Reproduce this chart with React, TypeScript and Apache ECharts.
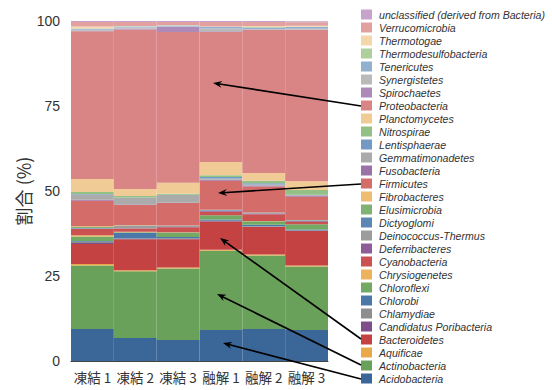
import React, { useEffect, useRef } from "react";
import * as echarts from "echarts";

const categories = ["凍結 1", "凍結 2", "凍結 3", "融解 1", "融解 2", "融解 3"];
const yTicks = [0, 25, 50, 75, 100];

// bottom to top
const phyla = [
  "Acidobacteria", "Actinobacteria", "Aquificae", "Bacteroidetes", "Candidatus Poribacteria",
  "Chlamydiae", "Chlorobi", "Chloroflexi", "Chrysiogenetes", "Cyanobacteria",
  "Deferribacteres", "Deinococcus-Thermus", "Dictyoglomi", "Elusimicrobia", "Fibrobacteres",
  "Firmicutes", "Fusobacteria", "Gemmatimonadetes", "Lentisphaerae", "Nitrospirae",
  "Planctomycetes", "Proteobacteria", "Spirochaetes", "Synergistetes", "Tenericutes",
  "Thermodesulfobacteria", "Thermotogae", "Verrucomicrobia", "unclassified (derived from Bacteria)",
];

const acidobacteria = [9.4, 6.8, 6.2, 9.1, 9.4, 9.1];
const actinobacteria = [18.7, 19.6, 21.0, 23.3, 21.6, 18.7];
const aquificae = [0.4, 0.3, 0.3, 0.3, 0.3, 0.3];
const bacteroidetes = [5.9, 9.1, 8.3, 8.3, 8.1, 10.1];
const candidatusPoribacteria = [0.3, 0.1, 0.1, 0.15, 0.1, 0.1];
const chlamydiae = [0.4, 0.1, 0.2, 0.1, 0.1, 0.1];
const chlorobi = [0.2, 1.7, 0.4, 0.4, 0.5, 0.3];
const chloroflexi = [1.3, 0.2, 1.3, 1.2, 1.0, 1.5];
const chrysiogenetes = [0.4, 0.1, 0.05, 0.05, 0.05, 0.05];
const cyanobacteria = [1.8, 1.0, 1.5, 1.0, 2.0, 0.7];
const deferribacteres = [0.1, 0.05, 0.05, 0.3, 0.2, 0.3];
const deinococcusThermus = [0.1, 0.7, 0.3, 0.1, 0.2, 0.1];
const dictyoglomi = [0.1, 0.05, 0.05, 0.1, 0.05, 0.05];
const elusimicrobia = [0.3, 0.05, 0.05, 0.05, 0.05, 0.05];
const fibrobacteres = [0.2, 0.05, 0.05, 0.05, 0.05, 0.05];
const firmicutes = [7.5, 6.0, 6.6, 8.5, 7.6, 6.8];
const fusobacteria = [0.3, 0.1, 0.1, 0.3, 0.3, 0.4];
const gemmatimonadetes = [1.6, 2.0, 2.3, 0.4, 0.3, 0.1];
const lentisphaerae = [0.1, 0.1, 0.05, 0.4, 0.4, 0.1];
const nitrospirae = [0.6, 0.4, 0.3, 0.5, 0.7, 1.4];
const planctomycetes = [3.8, 2.1, 3.2, 3.9, 2.3, 2.6];
const proteobacteria = [43.5, 46.9, 44.4, 38.3, 42.1, 44.5];
const spirochaetes = [0.1, 0.3, 1.5, 0.2, 0.1, 0.1];
const synergistetes = [0.3, 0.3, 0.1, 0.8, 0.1, 0.2];
const tenericutes = [0.3, 0.3, 0.3, 0.4, 0.5, 0.5];
const thermodesulfobacteria = [0.1, 0.05, 0.05, 0.1, 0.1, 0.1];
const thermotogae = [0.6, 0.05, 0.05, 0.1, 0.3, 0.3];
const verrucomicrobia = [1.3, 1.2, 0.9, 1.3, 1.2, 1.0];
const unclassified = [0.3, 0.3, 0.3, 0.3, 0.3, 0.3];

const values = [
  acidobacteria, actinobacteria, aquificae, bacteroidetes, candidatusPoribacteria,
  chlamydiae, chlorobi, chloroflexi, chrysiogenetes, cyanobacteria,
  deferribacteres, deinococcusThermus, dictyoglomi, elusimicrobia, fibrobacteres,
  firmicutes, fusobacteria, gemmatimonadetes, lentisphaerae, nitrospirae,
  planctomycetes, proteobacteria, spirochaetes, synergistetes, tenericutes,
  thermodesulfobacteria, thermotogae, verrucomicrobia, unclassified,
];

const colors = [
  "#3a6698", "#6aa15a", "#e9a94a", "#c44242", "#7e4e8a",
  "#8e8e8e", "#4b78a8", "#74a964", "#ecb25c", "#cc5252",
  "#8c5d99", "#9c9c9c", "#5c87b4", "#80b271", "#eebd71",
  "#d46c6a", "#9b72a8", "#ababab", "#7399c4", "#93c084",
  "#f1cb95", "#d98485", "#ad8ab8", "#bababa", "#92afd0",
  "#aed09f", "#f4d6ab", "#e2a09f", "#c7a3cb",
];

// annotation arrows: legend row -> region in chart (pixels)
const arrows = [
  { from: [361, 106], to: [213, 83] },
  { from: [361, 184], to: [218, 193] },
  { from: [361, 339], to: [220, 238] },
  { from: [361, 365], to: [217, 294] },
  { from: [361, 379], to: [223, 343] },
];

function arrowGraphics() {
  const els: any[] = [];
  arrows.forEach((a) => {
    const [x1, y1] = a.from;
    const [x2, y2] = a.to;
    const dx = x2 - x1, dy = y2 - y1;
    const len = Math.sqrt(dx * dx + dy * dy);
    const ux = dx / len, uy = dy / len;
    const hl = 9, hw = 3.5;
    const bx = x2 - ux * hl, by = y2 - uy * hl;
    const px = -uy, py = ux;
    els.push({
      type: "line",
      z: 100,
      shape: { x1, y1, x2: x2 - ux * 5, y2: y2 - uy * 5 },
      style: { stroke: "#000", lineWidth: 1.6 },
    });
    els.push({
      type: "polygon",
      z: 100,
      shape: {
        points: [
          [x2, y2],
          [bx + px * hw, by + py * hw],
          [x2 - ux * 6, y2 - uy * 6],
          [bx - px * hw, by - py * hw],
        ],
      },
      style: { fill: "#000" },
    });
  });
  return els;
}

export default function App() {
  const ref = useRef<HTMLDivElement>(null);
  useEffect(() => {
    if (!ref.current) return;
    const chart = echarts.init(ref.current, null, { renderer: "svg" });
    const series = phyla.map((name, i) => ({
      name,
      type: "bar",
      stack: "total",
      barCategoryGap: "0%",
      data: values[i],
      itemStyle: { color: colors[i] },
      emphasis: { disabled: true },
    }));
    chart.setOption({
      animation: false,
      grid: { left: 71, right: 224, top: 21, bottom: 29 },
      xAxis: {
        type: "category",
        data: categories,
        axisLine: { show: true, lineStyle: { color: "#444", width: 1 } },
        axisTick: { show: false },
        axisLabel: {
          interval: 0,
          hideOverlap: false,
          fontSize: 13.5,
          color: "#333",
          margin: 9,
          fontFamily: "Noto Sans CJK JP",
        },
      },
      yAxis: {
        type: "value",
        min: 0,
        max: 100,
        interval: 25,
        axisLine: { show: false },
        axisTick: { show: false },
        splitLine: { show: false },
        axisLabel: {
          fontSize: 14,
          color: "#333",
          margin: 11,
          fontFamily: "Liberation Sans",
          formatter: (v: number) => (yTicks.includes(v) ? String(v) : ""),
        },
        name: "割合 (%)",
        nameLocation: "middle",
        nameGap: 39,
        nameRotate: 90,
        nameTextStyle: { fontSize: 18, color: "#333", fontFamily: "Noto Sans CJK JP" },
      },
      legend: {
        orient: "vertical",
        left: 356,
        top: 4,
        height: 390,
        itemWidth: 11,
        itemHeight: 10,
        itemGap: 2,
        icon: "rect",
        selectedMode: false,
        data: [...phyla].reverse(),
        textStyle: {
          fontSize: 10.6,
          lineHeight: 11,
          fontStyle: "italic",
          color: "#333",
          fontFamily: "Liberation Sans",
          padding: [0, 0, 0, 2],
        },
      },
      series,
      graphic: arrowGraphics(),
    });
    return () => chart.dispose();
  }, []);
  return <div ref={ref} style={{ width: 552, height: 390, position: "absolute", left: 0, top: 0 }} />;
}
